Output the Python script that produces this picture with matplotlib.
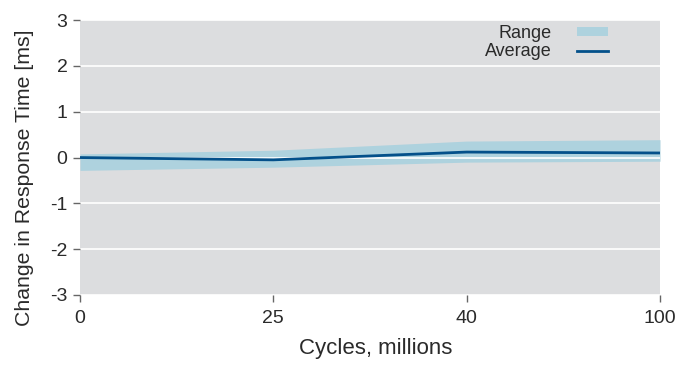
import numpy as np
import matplotlib.pyplot as plt
from matplotlib.patches import Patch
from matplotlib.lines import Line2D

plt.rcParams['font.family'] = ['Liberation Sans', 'DejaVu Sans']
plt.rcParams['axes.unicode_minus'] = False

# Cycle checkpoints (millions) and measured response-time change (ms)
cycles = ['0', '25', '40', '100']
avg_change = [0.0, -0.05, 0.12, 0.10]
range_low = [-0.28, -0.21, -0.10, -0.08]
range_high = [0.08, 0.16, 0.36, 0.39]

band_color = '#aed2de'
line_color = '#03508a'
bg_color = '#dcdddf'
text_color = '#2a2a2a'

fig = plt.figure(figsize=(6.88, 3.66), dpi=100)
ax = fig.add_axes([0.1163, 0.194, 0.843, 0.751])
ax.set_facecolor(bg_color)

x = np.arange(len(cycles))
ax.fill_between(x, range_low, range_high, color=band_color, lw=0, zorder=1)
ax.axhline(0, color='white', lw=1.2, zorder=2)
ax.plot(x, avg_change, color=line_color, lw=2, zorder=3)

ax.set_xlim(0, len(cycles) - 1)
ax.set_ylim(-3, 3)
ax.set_xticks(x)
ax.set_xticklabels(cycles)
ax.set_yticks(range(-3, 4))
ax.yaxis.grid(True, color='white', lw=1.2)
ax.set_axisbelow(True)
for s in ax.spines.values():
    s.set_visible(False)
ax.tick_params(axis='both', colors='#666666', labelcolor=text_color, labelsize=14, length=5, width=1)
ax.tick_params(axis='y', pad=4)
ax.tick_params(axis='x', pad=6)

ax.set_xlabel('Cycles, millions', fontsize=16, color=text_color)
ax.xaxis.set_label_coords(0.51, -0.155)
ax.set_ylabel('Change in Response Time [ms]', fontsize=15.3, color=text_color)
ax.yaxis.set_label_coords(-0.079, 0.427)

handles = [Patch(facecolor=band_color, edgecolor='none'),
           Line2D([0], [0], color=line_color, lw=2)]
ax.legend(handles, ['Range', 'Average'], loc='upper right', bbox_to_anchor=(0.91, 0.982),
          frameon=False, markerfirst=False, fontsize=13, handlelength=1.7,
          handleheight=0.35, labelspacing=0.05, handletextpad=1.4,
          borderpad=0, borderaxespad=0, labelcolor=text_color)

fig.savefig('out.png', dpi=100)
